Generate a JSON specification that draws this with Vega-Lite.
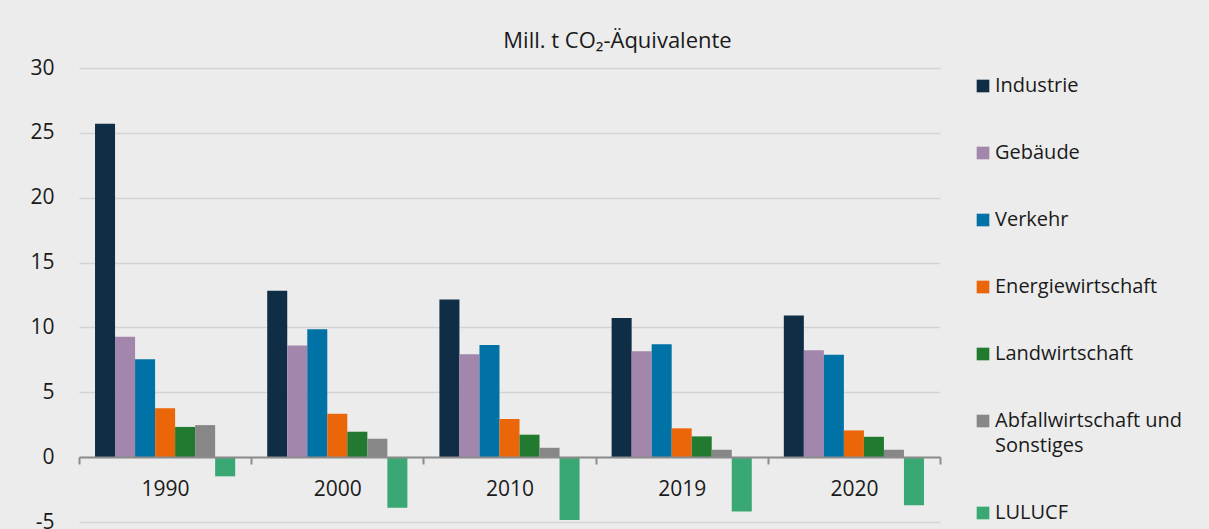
{
  "$schema": "https://vega.github.io/schema/vega-lite/v6.json",
  "width": 861,
  "height": 454,
  "autosize": {"type": "none"},
  "padding": {"left": 79, "top": 68, "right": 269, "bottom": 7},
  "background": "#ececec",
  "config": {
    "font": "Open Sans",
    "view": {"stroke": null},
    "axis": {"labelFont": "Open Sans", "labelColor": "#1a1a1a", "labelFontSize": 21},
    "style": {"guide-label": {"lineHeight": 25}}
  },
  "title": {
    "text": "Mill. t CO₂-Äquivalente",
    "font": "Open Sans",
    "fontSize": 22,
    "fontWeight": "normal",
    "color": "#1a1a1a",
    "anchor": "middle",
    "frame": "group",
    "baseline": "alphabetic",
    "dx": 108,
    "offset": -13
  },
  "data": {
    "values": [
      {"year": "1990", "sector": "Industrie", "value": 25.7},
      {"year": "1990", "sector": "Gebäude", "value": 9.28},
      {"year": "1990", "sector": "Verkehr", "value": 7.55},
      {"year": "1990", "sector": "Energiewirtschaft", "value": 3.76},
      {"year": "1990", "sector": "Landwirtschaft", "value": 2.33},
      {"year": "1990", "sector": "Abfallwirtschaft und Sonstiges", "value": 2.47},
      {"year": "1990", "sector": "LULUCF", "value": -1.48},
      {"year": "2000", "sector": "Industrie", "value": 12.82},
      {"year": "2000", "sector": "Gebäude", "value": 8.6},
      {"year": "2000", "sector": "Verkehr", "value": 9.86},
      {"year": "2000", "sector": "Energiewirtschaft", "value": 3.35},
      {"year": "2000", "sector": "Landwirtschaft", "value": 1.96},
      {"year": "2000", "sector": "Abfallwirtschaft und Sonstiges", "value": 1.42},
      {"year": "2000", "sector": "LULUCF", "value": -3.9},
      {"year": "2010", "sector": "Industrie", "value": 12.15},
      {"year": "2010", "sector": "Gebäude", "value": 7.93},
      {"year": "2010", "sector": "Verkehr", "value": 8.65},
      {"year": "2010", "sector": "Energiewirtschaft", "value": 2.94},
      {"year": "2010", "sector": "Landwirtschaft", "value": 1.73},
      {"year": "2010", "sector": "Abfallwirtschaft und Sonstiges", "value": 0.72},
      {"year": "2010", "sector": "LULUCF", "value": -4.84},
      {"year": "2019", "sector": "Industrie", "value": 10.73},
      {"year": "2019", "sector": "Gebäude", "value": 8.16},
      {"year": "2019", "sector": "Verkehr", "value": 8.7},
      {"year": "2019", "sector": "Energiewirtschaft", "value": 2.22},
      {"year": "2019", "sector": "Landwirtschaft", "value": 1.6},
      {"year": "2019", "sector": "Abfallwirtschaft und Sonstiges", "value": 0.57},
      {"year": "2019", "sector": "LULUCF", "value": -4.19},
      {"year": "2020", "sector": "Industrie", "value": 10.92},
      {"year": "2020", "sector": "Gebäude", "value": 8.24},
      {"year": "2020", "sector": "Verkehr", "value": 7.9},
      {"year": "2020", "sector": "Energiewirtschaft", "value": 2.06},
      {"year": "2020", "sector": "Landwirtschaft", "value": 1.57},
      {"year": "2020", "sector": "Abfallwirtschaft und Sonstiges", "value": 0.57},
      {"year": "2020", "sector": "LULUCF", "value": -3.7}
    ]
  },
  "mark": {"type": "bar"},
  "encoding": {
    "x": {
      "field": "year",
      "type": "nominal",
      "scale": {"paddingInner": 0, "paddingOuter": 0},
      "axis": {
        "title": null,
        "labelAngle": 0,
        "tickBand": "extent",
        "offset": -65,
        "domainColor": "#8c8c8c",
        "domainWidth": 2,
        "tickColor": "#8c8c8c",
        "tickWidth": 2,
        "tickSize": 7,
        "labelBaseline": "middle",
        "labelPadding": 25,
        "grid": false,
        "zindex": 1
      }
    },
    "xOffset": {
      "field": "sector",
      "type": "nominal",
      "sort": ["Industrie", "Gebäude", "Verkehr", "Energiewirtschaft", "Landwirtschaft", "Abfallwirtschaft und Sonstiges", "LULUCF"],
      "scale": {"paddingInner": 0, "paddingOuter": 0.8}
    },
    "y": {
      "field": "value",
      "type": "quantitative",
      "scale": {"domain": [-5, 30], "nice": false, "zero": false},
      "axis": {
        "title": null,
        "values": [-5, 0, 5, 10, 15, 20, 25, 30],
        "labelExpr": "replace(datum.label, '−', '-')",
        "domain": false,
        "ticks": false,
        "tickSize": 0,
        "grid": true,
        "gridColor": "#d4d4d4",
        "gridWidth": 1.5,
        "labelPadding": 25
      }
    },
    "color": {
      "field": "sector",
      "type": "nominal",
      "sort": ["Industrie", "Gebäude", "Verkehr", "Energiewirtschaft", "Landwirtschaft", "Abfallwirtschaft und Sonstiges", "LULUCF"],
      "scale": {
        "domain": ["Industrie", "Gebäude", "Verkehr", "Energiewirtschaft", "Landwirtschaft", "Abfallwirtschaft und Sonstiges", "LULUCF"],
        "range": ["#0f2d45", "#a386ab", "#0072a6", "#eb6608", "#217a2f", "#878787", "#3aa874"]
      },
      "legend": {
        "title": null,
        "orient": "none",
        "legendX": 894,
        "legendY": 8,
        "padding": 0,
        "symbolType": "square",
        "symbolSize": 160,
        "symbolStrokeWidth": 0,
        "labelFont": "Open Sans",
        "labelFontSize": 20,
        "labelColor": "#1a1a1a",
        "labelOffset": 2,
        "labelLimit": 400,
        "rowPadding": 47,
        "labelExpr": "datum.label === 'Abfallwirtschaft und Sonstiges' ? ['Abfallwirtschaft und', 'Sonstiges'] : datum.label"
      }
    }
  }
}
